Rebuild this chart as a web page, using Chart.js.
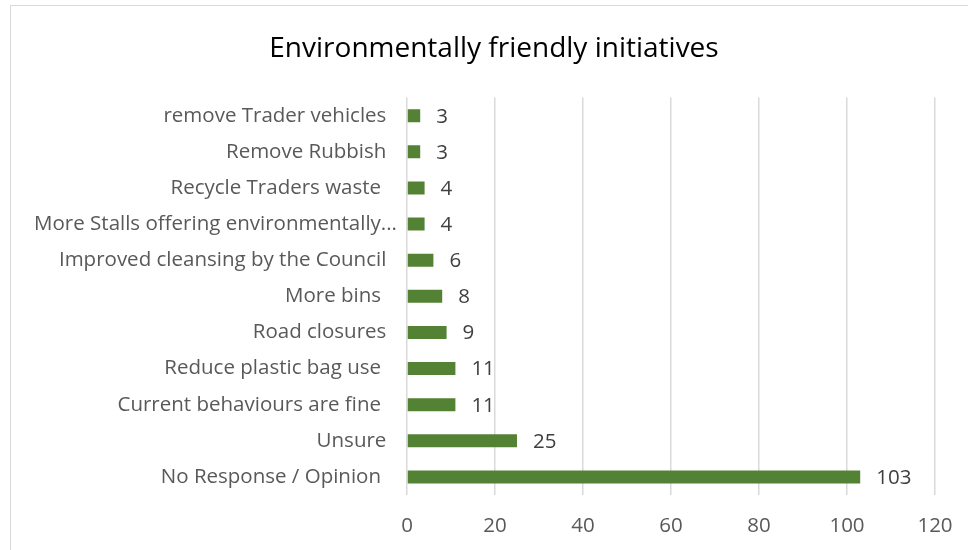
<!DOCTYPE html>
<html>
<head>
<meta charset="utf-8">
<script src="https://cdn.jsdelivr.net/npm/chart.js@4"></script>
<style>
  body { margin: 0; background: #fff; }
  #frame { position: absolute; left: 10px; top: 5px; width: 1000px; height: 600px; border: 1px solid #d9d9d9; }
  #wrap { position: absolute; left: 0; top: 0; width: 968px; height: 550px; }
</style>
</head>
<body>
<div id="frame"></div>
<div id="wrap"><canvas id="barChart" width="968" height="550"></canvas></div>
<script>
// categories, top to bottom
const categories = [
  'remove Trader vehicles',
  'Remove Rubbish',
  'Recycle Traders waste ',
  'More Stalls offering environmentally...',
  'Improved cleansing by the Council',
  'More bins ',
  'Road closures',
  'Reduce plastic bag use ',
  'Current behaviours are fine ',
  'Unsure',
  'No Response / Opinion '
];
const counts = [3, 3, 4, 4, 6, 8, 9, 11, 11, 25, 103];
const xTicks = [0, 20, 40, 60, 80, 100, 120];

const fontName = '"Open Sans", Lato, sans-serif';

// draw the value next to each bar
const valueLabels = {
  id: 'valueLabels',
  afterDatasetsDraw(chart) {
    const c = chart.ctx;
    const meta = chart.getDatasetMeta(0);
    c.save();
    c.font = '20.5px ' + fontName;
    c.fillStyle = '#404040';
    c.textBaseline = 'middle';
    c.textAlign = 'left';
    meta.data.forEach((bar, i) => {
      c.fillText(String(counts[i]), bar.x + 16, bar.y + 1);
    });
    c.restore();
  }
};

const ctx = document.getElementById('barChart').getContext('2d');
const chart = new Chart(ctx, {
  type: 'bar',
  data: {
    labels: categories,
    datasets: [{
      data: counts,
      backgroundColor: '#548235',
      borderWidth: 0,
      barPercentage: 0.36,
      categoryPercentage: 1
    }]
  },
  options: {
    indexAxis: 'y',
    responsive: false,
    animation: false,
    layout: {
      padding: { left: 20, right: 0, top: 0, bottom: 0 }
    },
    plugins: {
      legend: { display: false },
      tooltip: { enabled: false },
      title: {
        display: true,
        text: 'Environmentally friendly initiatives',
        color: '#000',
        font: { family: fontName, size: 28, weight: 'normal', lineHeight: 1.2 },
        padding: { top: 32, bottom: 32 }
      }
    },
    scales: {
      x: {
        min: 0,
        max: 120,
        afterBuildTicks: scale => { scale.ticks = xTicks.map(v => ({ value: v })); },
        afterFit: scale => {
          scale.height = 55;
          scale.paddingLeft = 0;
          scale.paddingRight = 33;
        },
        grid: { color: '#d9d9d9', lineWidth: 1.5, drawTicks: false },
        border: { display: false },
        ticks: {
          color: '#595959',
          padding: 19,
          font: { family: fontName, size: 20.5 }
        }
      },
      y: {
        afterFit: scale => { scale.width = 387; },
        grid: { display: false, drawTicks: false },
        border: { display: false },
        ticks: {
          color: '#595959',
          padding: 10,
          font: { family: fontName, size: 20.5 },
          // Excel lets the truncated label run closer to the axis
          callback: function(value) {
            const label = this.getLabelForValue(value);
            return label.endsWith('...') ? label : label + '  ';
          }
        }
      }
    }
  },
  plugins: [valueLabels]
});
</script>
</body>
</html>
